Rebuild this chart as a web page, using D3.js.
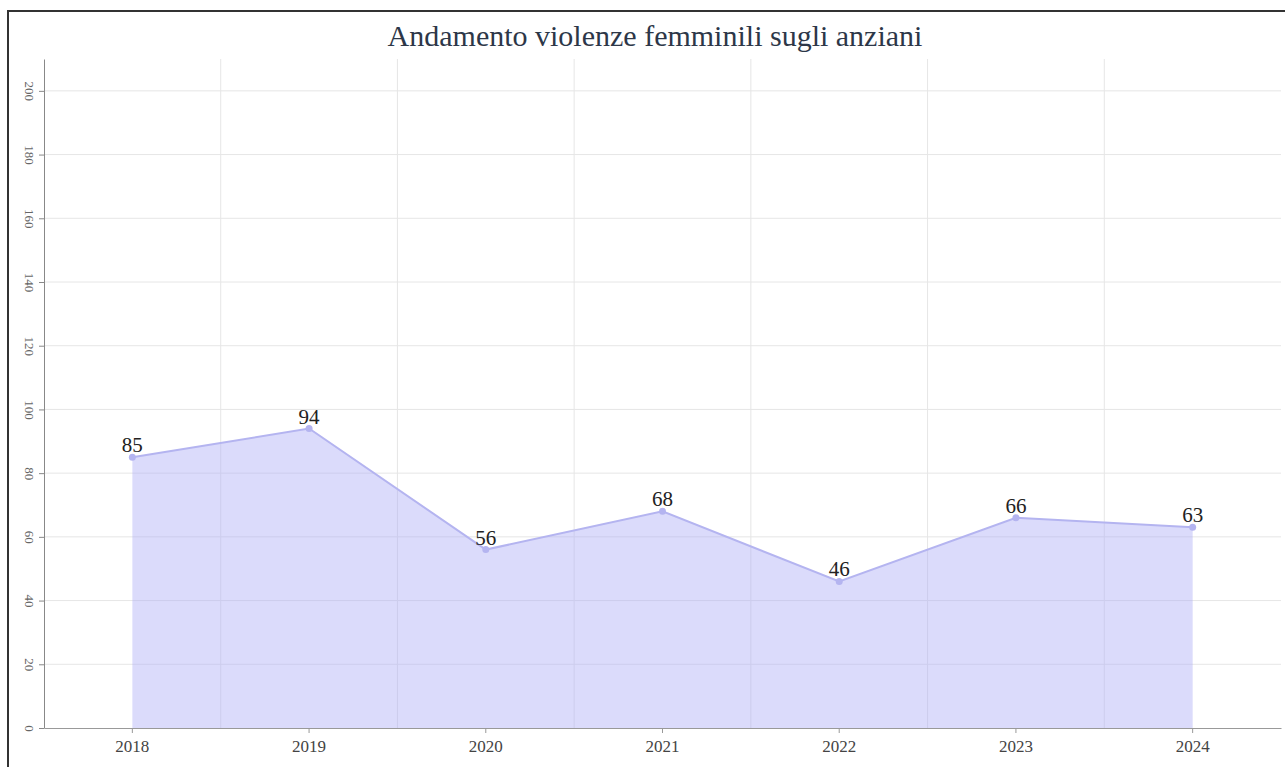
<!DOCTYPE html>
<html>
<head>
<meta charset="utf-8">
<script src="https://cdn.jsdelivr.net/npm/d3@7"></script>
<style>
  body { margin: 0; background: #fff; }
  svg { display: block; }
</style>
</head>
<body>
<div id="chart"></div>
<script>
// data
let years = ['2018', '2019', '2020', '2021', '2022', '2023', '2024']
let values = [85, 94, 56, 68, 46, 66, 63]
let yTicks = [0, 20, 40, 60, 80, 100, 120, 140, 160, 180, 200]
let chartTitle = 'Andamento violenze femminili sugli anziani'

var width = 1285
var height = 767
var margin = {top: 59, right: 4, bottom: 39, left: 44}

var data = years.map(function (y, i) {
  return {year: y, value: values[i]}
})

var svg = d3.select('#chart')
  .append('svg')
  .attr('width', width)
  .attr('height', height)

// frame around the chart
svg.append('path')
  .attr('d', 'M8,' + height + 'V11H' + width)
  .attr('fill', 'none')
  .attr('stroke', '#333')
  .attr('stroke-width', 2)

var x = d3.scaleBand()
  .domain(years)
  .range([margin.left, width - margin.right])
  .padding(0)

var y = d3.scaleLinear()
  .domain([0, 210])
  .range([height - margin.bottom, margin.top])

var cx = function (d) { return x(d.year) + x.bandwidth() / 2 }

// horizontal grid
svg.append('g')
  .selectAll('line')
  .data(yTicks.filter(function (t) { return t > 0 }))
  .enter().append('line')
  .attr('x1', margin.left)
  .attr('x2', width - margin.right)
  .attr('y1', function (t) { return y(t) })
  .attr('y2', function (t) { return y(t) })
  .attr('stroke', '#e6e6e6')

// vertical grid on band edges
svg.append('g')
  .selectAll('line')
  .data(years.slice(1))
  .enter().append('line')
  .attr('x1', function (d) { return x(d) })
  .attr('x2', function (d) { return x(d) })
  .attr('y1', margin.top)
  .attr('y2', height - margin.bottom)
  .attr('stroke', '#e6e6e6')

// area + line
var area = d3.area()
  .x(cx)
  .y0(y(0))
  .y1(function (d) { return y(d.value) })

var line = d3.line()
  .x(cx)
  .y(function (d) { return y(d.value) })

svg.append('path')
  .datum(data)
  .attr('d', area)
  .attr('fill', 'rgba(172, 172, 245, 0.44)')

svg.append('path')
  .datum(data)
  .attr('d', line)
  .attr('fill', 'none')
  .attr('stroke', '#b4b4f0')
  .attr('stroke-width', 2)

svg.selectAll('circle.pt')
  .data(data)
  .enter().append('circle')
  .attr('class', 'pt')
  .attr('cx', cx)
  .attr('cy', function (d) { return y(d.value) })
  .attr('r', 3.5)
  .attr('fill', '#b4b4f0')

// value labels
svg.selectAll('text.val')
  .data(data)
  .enter().append('text')
  .attr('class', 'val')
  .attr('x', cx)
  .attr('y', function (d) { return y(d.value) - 5 })
  .attr('text-anchor', 'middle')
  .attr('font-family', 'Liberation Serif, serif')
  .attr('font-size', 21)
  .attr('fill', '#222')
  .text(function (d) { return d.value })

// y axis
var yAxis = svg.append('g')
  .attr('transform', 'translate(' + margin.left + ',0)')
  .call(d3.axisLeft(y).tickValues(yTicks).tickSize(5).tickSizeOuter(0))

yAxis.select('.domain').attr('stroke', '#888')
yAxis.selectAll('.tick line').attr('stroke', '#888')
yAxis.selectAll('.tick text')
  .attr('x', 0)
  .attr('dy', '0.35em')
  .attr('text-anchor', 'middle')
  .attr('transform', 'translate(-14,0) rotate(90)')
  .attr('font-family', 'Liberation Serif, serif')
  .attr('font-size', 13)
  .attr('fill', '#666')

// x axis
var xAxis = svg.append('g')
  .attr('transform', 'translate(0,' + y(0) + ')')
  .call(d3.axisBottom(x).tickSize(5).tickSizeOuter(0))

xAxis.select('.domain').attr('stroke', '#999')
xAxis.selectAll('.tick line').attr('stroke', '#999')
xAxis.selectAll('.tick text')
  .attr('y', 12)
  .attr('font-family', 'Liberation Serif, serif')
  .attr('font-size', 17)
  .attr('fill', '#444')

// title
svg.append('text')
  .attr('x', 655)
  .attr('y', 46)
  .attr('text-anchor', 'middle')
  .attr('font-family', 'Liberation Serif, serif')
  .attr('font-size', 30)
  .attr('fill', '#2d3748')
  .text(chartTitle)
</script>
</body>
</html>
